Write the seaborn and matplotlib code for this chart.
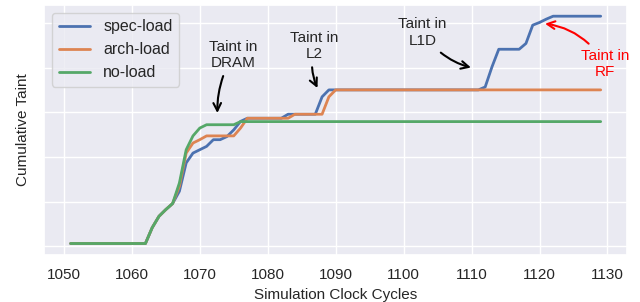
import numpy as np
import pandas as pd
import matplotlib
matplotlib.use("Agg")
import matplotlib.pyplot as plt
import seaborn as sns

cycles = list(range(1051, 1130))

spec_load = [1.3] * 12 + [
    8.4, 13.5, 16.5, 19.2, 24.7, 37.4, 41.8, 43.3, 44.8, 47.8, 47.8, 49.2, 52.2,
    56.0, 57.4, 57.4, 57.4, 57.4, 57.4, 57.4, 59.2, 59.2, 59.2, 59.2, 59.2, 67.0,
] + [70.1] * 23 + [
    71.4, 80.4, 88.3, 88.3, 88.3, 88.3, 90.9, 99.1, 100.3, 101.8,
] + [103.1] * 8

arch_load = [1.3] * 12 + [
    8.4, 13.5, 16.5, 19.2, 26.9, 41.8, 46.3, 47.8, 49.5, 49.5, 49.5, 49.5, 49.5,
    53.0, 57.4,
] + [57.4] * 6 + [59.2] * 5 + [67.0] + [70.1] * 40

no_load = [1.3] * 12 + [
    8.4, 13.5, 16.5, 19.2, 28.4, 43.3, 49.5, 53.0, 54.5, 54.5, 54.5, 54.5, 54.5,
] + [55.9] * 54

series_names = ["spec-load", "arch-load", "no-load"]

sns.set_theme(style="darkgrid")
plt.rcParams["font.family"] = ["Liberation Sans", "DejaVu Sans"]

df = pd.concat([
    pd.DataFrame({"cycle": cycles, "taint": vals, "mode": name})
    for name, vals in zip(series_names, [spec_load, arch_load, no_load])
])

fig = plt.figure(figsize=(6.4, 3.02), dpi=100)
ax = fig.add_axes([0.069, 0.156, 0.911, 0.828])
sns.lineplot(data=df, x="cycle", y="taint", hue="mode", hue_order=series_names,
             palette=sns.color_palette("deep", 3), linewidth=2, ax=ax)

ax.set_xlabel("Simulation Clock Cycles", fontsize=11)
ax.set_ylabel("Cumulative Taint", fontsize=11)
ax.yaxis.set_label_coords(-0.025, 0.5)
ax.set_xticks(range(1050, 1131, 10))
ax.tick_params(axis="x", labelsize=11)
ax.set_yticks([0, 20, 40, 60, 80, 100])
ax.set_yticklabels([])

leg = ax.legend(loc="upper left", fontsize=11.5, frameon=True)
leg.set_title(None)

ann_font = dict(fontsize=11, ha="center", va="center")
arrow_kw = dict(arrowstyle="-|>,head_length=0.5,head_width=0.15", lw=1.5)
ax.annotate("Taint in\nDRAM", xy=(1072.6, 58.5), xytext=(1074.9, 85.7),
            arrowprops=dict(color="black", connectionstyle="arc3,rad=0.15",
                            arrowstyle="->,head_length=0.5,head_width=0.25", lw=1.5),
            **ann_font)
ax.annotate("Taint in\nL2", xy=(1087.5, 69.8), xytext=(1086.9, 89.7),
            arrowprops=dict(color="black", connectionstyle="arc3,rad=0.2",
                            arrowstyle="->,head_length=0.5,head_width=0.25", lw=1.5),
            **ann_font)
ax.annotate("Taint in\nL1D", xy=(1110.3, 79.8), xytext=(1102.8, 95.8),
            arrowprops=dict(color="black", connectionstyle="arc3,rad=0.2",
                            arrowstyle="->,head_length=0.5,head_width=0.25", lw=1.5),
            **ann_font)
ax.annotate("Taint in\nRF", xy=(1120.4, 99.9), xytext=(1129.6, 81.7),
            color="red",
            arrowprops=dict(color="red", connectionstyle="arc3,rad=0.25",
                            arrowstyle="->,head_length=0.5,head_width=0.25", lw=1.5),
            **ann_font)

fig.savefig("out.png", dpi=100)
